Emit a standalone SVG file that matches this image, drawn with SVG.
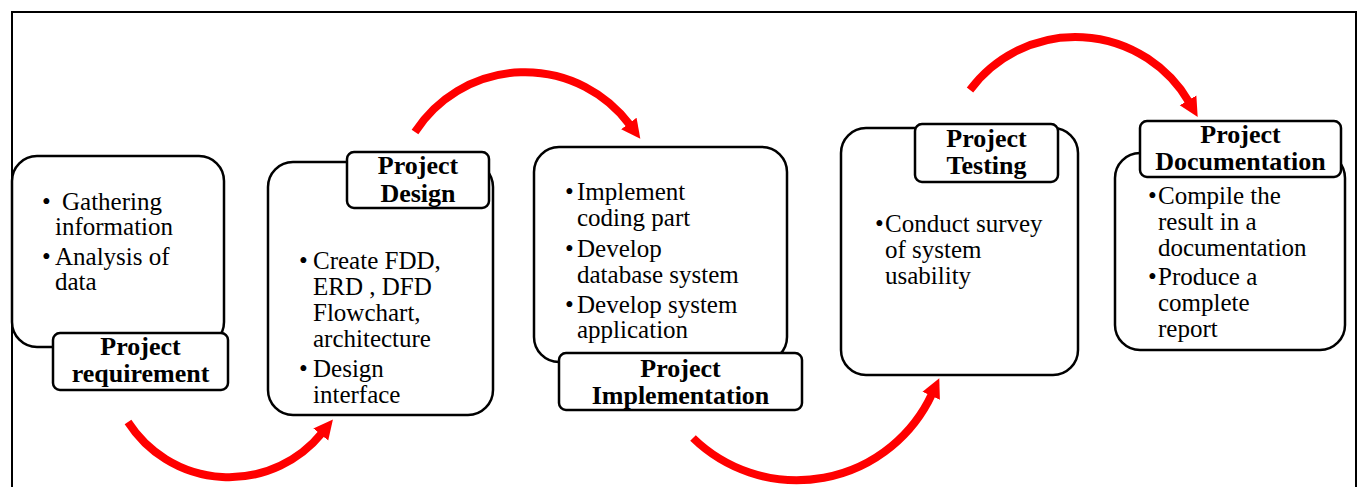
<svg xmlns="http://www.w3.org/2000/svg" width="1362" height="487" viewBox="0 0 1362 487">
<defs>
<style>
.box{fill:#fff;stroke:#000;stroke-width:2.5}
.lbl{fill:#fff;stroke:#000;stroke-width:2.5}
.t{font-size:25px;fill:#000}
.h{font-size:26px;font-weight:bold;fill:#000;text-anchor:middle}
.arc{fill:none;stroke:#ff0000;stroke-width:8;marker-end:url(#ah)}
</style>
<marker id="ah" viewBox="0 0 10 10" refX="1" refY="5" markerUnits="strokeWidth" markerWidth="2.4" markerHeight="2.8" orient="auto">
<path d="M0,0 L10,5 L0,10 z" fill="#ff0000"/>
</marker>
</defs>
<rect width="1362" height="487" fill="#fff"/>
<path d="M12,487 V12 H1356 V487" fill="none" stroke="#000" stroke-width="2"/>

<g id="connectors">
<path class="arc" d="M128,422 A120,120 0 0 0 322,433"/>
<path class="arc" d="M415,132 A131,131 0 0 1 630,125"/>
<path class="arc" d="M693,438 A149,149 0 0 0 932,394"/>
<path class="arc" d="M970,90 A131.5,131.5 0 0 1 1189,102"/>
</g>

<g font-family="Liberation Serif, Times New Roman, Times, serif">
<g id="node-requirement">
<rect class="box" x="12" y="156" width="212" height="191" rx="25"/>
<text class="t" x="42" y="210">•</text><text class="t" x="62" y="210">Gathering</text>
<text class="t" x="55" y="235">information</text>
<text class="t" x="42" y="265">•</text><text class="t" x="55" y="265">Analysis of</text>
<text class="t" x="55" y="290">data</text>
<rect class="lbl" x="53" y="333" width="175" height="57" rx="7"/>
<text class="h" x="140.5" y="355">Project</text>
<text class="h" x="140.5" y="382">requirement</text>
</g>

<g id="node-design">
<rect class="box" x="268" y="162" width="225" height="253" rx="25"/>
<rect class="lbl" x="347" y="152" width="142" height="56" rx="7"/>
<text class="h" x="418" y="174">Project</text>
<text class="h" x="418" y="202">Design</text>
<text class="t" x="299" y="269">•</text><text class="t" x="313" y="269">Create FDD,</text>
<text class="t" x="313" y="295">ERD , DFD</text>
<text class="t" x="313" y="321">Flowchart,</text>
<text class="t" x="313" y="347">architecture</text>
<text class="t" x="299" y="377">•</text><text class="t" x="313" y="377">Design</text>
<text class="t" x="313" y="403">interface</text>
</g>

<g id="node-implementation">
<rect class="box" x="534" y="147" width="253" height="215" rx="25"/>
<text class="t" x="565" y="200">•</text><text class="t" x="577" y="200">Implement</text>
<text class="t" x="577" y="226">coding part</text>
<text class="t" x="565" y="257">•</text><text class="t" x="577" y="257">Develop</text>
<text class="t" x="577" y="283">database system</text>
<text class="t" x="565" y="313">•</text><text class="t" x="577" y="313">Develop system</text>
<text class="t" x="577" y="338">application</text>
<rect class="lbl" x="559" y="353" width="243" height="57" rx="7"/>
<text class="h" x="680.5" y="377">Project</text>
<text class="h" x="680.5" y="404">Implementation</text>
</g>

<g id="node-testing">
<rect class="box" x="841" y="128" width="237" height="247" rx="25"/>
<rect class="lbl" x="915" y="124" width="143" height="58" rx="7"/>
<text class="h" x="986.5" y="147">Project</text>
<text class="h" x="986.5" y="174">Testing</text>
<text class="t" x="875" y="232">•</text><text class="t" x="885" y="232">Conduct survey</text>
<text class="t" x="885" y="258">of system</text>
<text class="t" x="885" y="284">usability</text>
</g>

<g id="node-documentation">
<rect class="box" x="1115" y="153" width="230" height="197" rx="25"/>
<rect class="lbl" x="1140" y="121" width="201" height="56" rx="7"/>
<text class="h" x="1240.5" y="143">Project</text>
<text class="h" x="1240.5" y="170">Documentation</text>
<text class="t" x="1148" y="204">•</text><text class="t" x="1158" y="204">Compile the</text>
<text class="t" x="1158" y="230">result in a</text>
<text class="t" x="1158" y="256">documentation</text>
<text class="t" x="1148" y="285">•</text><text class="t" x="1158" y="285">Produce a</text>
<text class="t" x="1158" y="311">complete</text>
<text class="t" x="1158" y="337">report</text>
</g>
</g>
</svg>
